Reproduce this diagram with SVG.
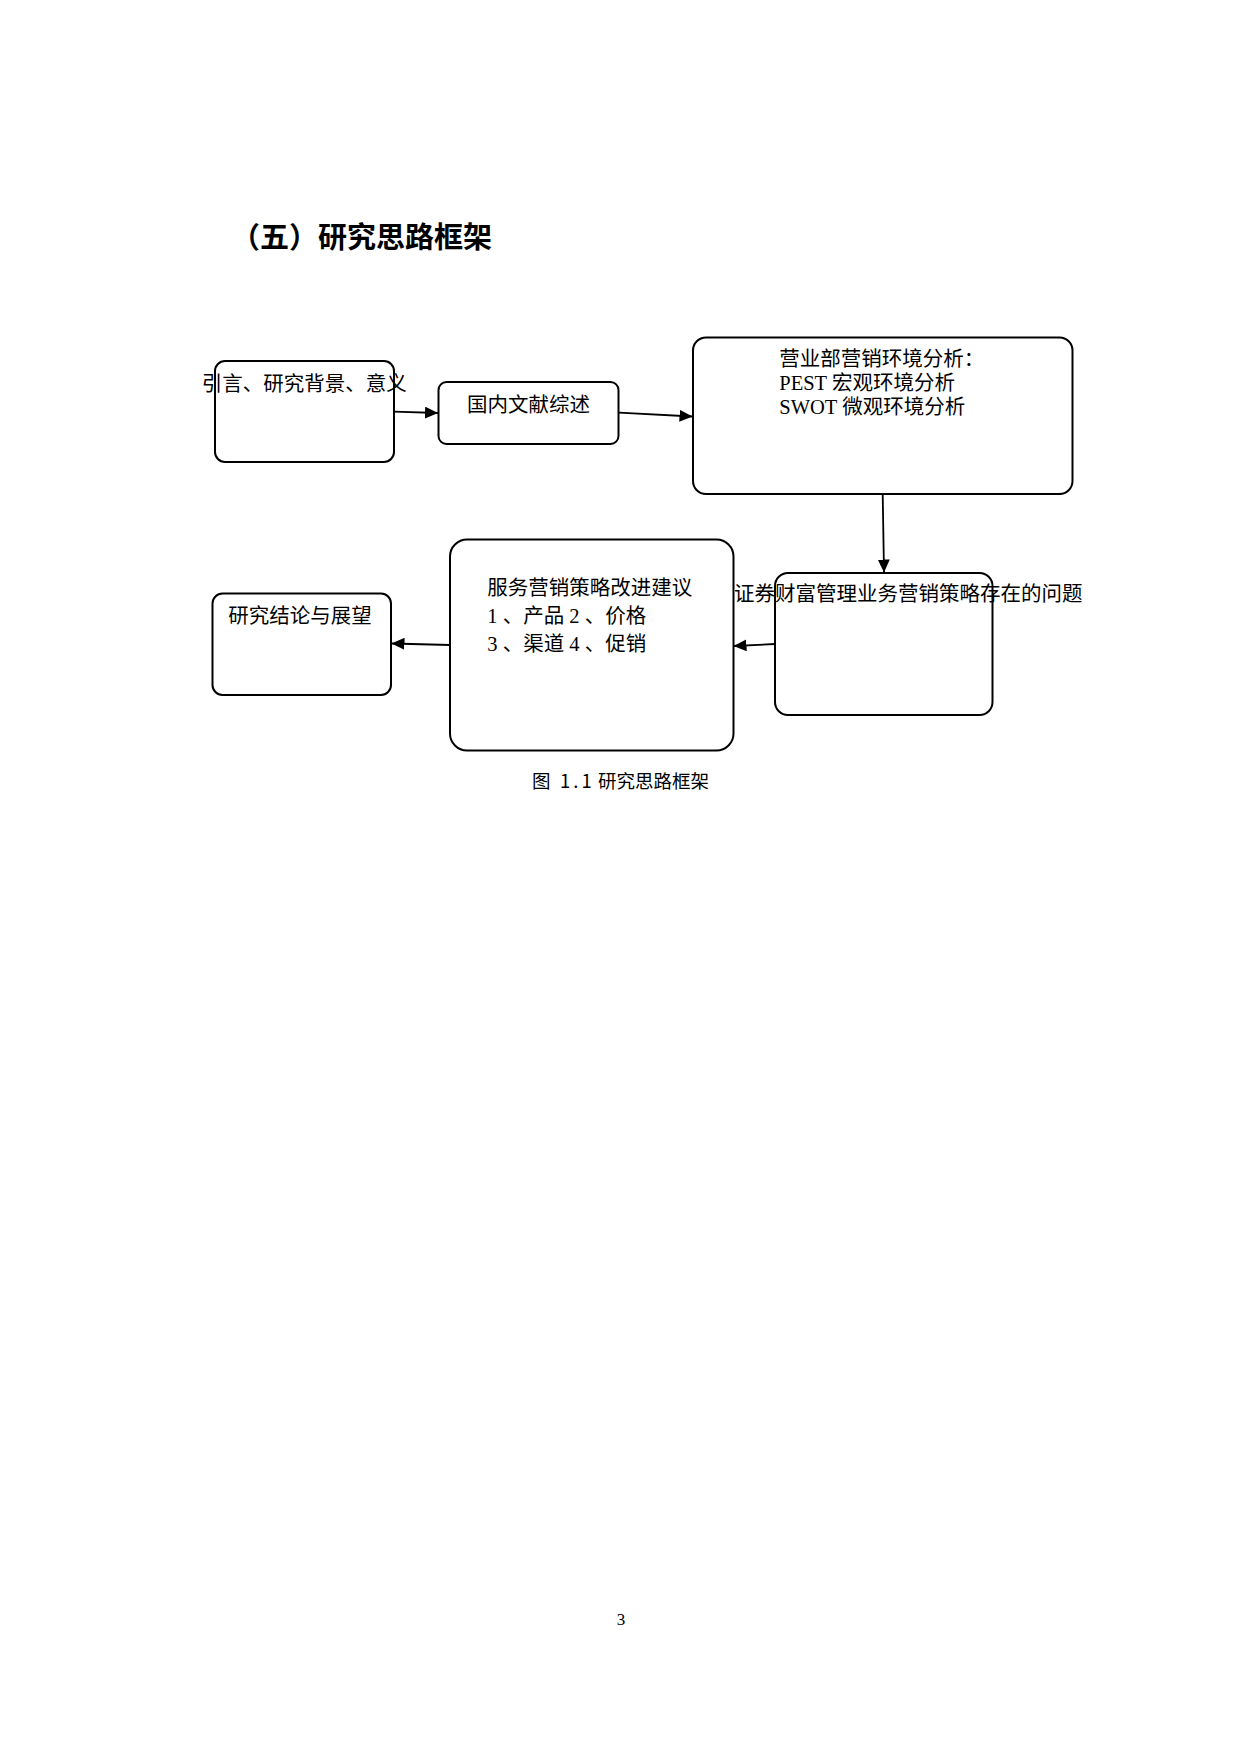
<svg xmlns="http://www.w3.org/2000/svg" width="1240" height="1754" viewBox="0 0 1240 1754">
<style>
.box{fill:none;stroke:#000;stroke-width:2}
.cn{font-family:"Noto Sans CJK SC","Liberation Sans",sans-serif;font-size:20.5px;fill:#000}
.mix{font-family:"Liberation Serif","Noto Sans CJK SC",serif;font-size:20.5px;fill:#000}
.con{stroke:#000;stroke-width:1.8;fill:none;marker-end:url(#arr)}
</style>
<defs>
<marker id="arr" markerUnits="userSpaceOnUse" markerWidth="14" markerHeight="12" refX="13" refY="6" orient="auto">
<path d="M0,0 L13,6 L0,12 z" fill="#000"/>
</marker>
</defs>
<rect width="1240" height="1754" fill="#fff"/>
<text x="231" y="248" font-family="'Noto Sans CJK SC',sans-serif" font-size="29" font-weight="bold" fill="#000">（五）研究思路框架</text>

<g id="connectors">
<line class="con" x1="394" y1="411.7" x2="438" y2="413"/>
<line class="con" x1="619" y1="412.7" x2="692.5" y2="416.5"/>
<line class="con" x1="882.7" y1="494" x2="884" y2="572.5"/>
<line class="con" x1="775" y1="644" x2="733.5" y2="646"/>
<line class="con" x1="450" y1="645" x2="391.5" y2="643.5"/>
</g>

<g id="n1">
<rect class="box" x="215" y="361" width="179" height="101" rx="10"/>
<text class="cn" x="201.7" y="391">引言、研究背景、意义</text>
</g>
<g id="n2">
<rect class="box" x="438.5" y="382" width="180" height="62" rx="8"/>
<text class="cn" x="528.5" y="412" text-anchor="middle">国内文献综述</text>
</g>
<g id="n3">
<rect class="box" x="693" y="337.5" width="379.5" height="156.5" rx="13"/>
<text class="mix" x="779.3" y="366">营业部营销环境分析：</text>
<text class="mix" x="779.3" y="390">PEST 宏观环境分析</text>
<text class="mix" x="779.3" y="414">SWOT 微观环境分析</text>
</g>
<g id="n4">
<rect class="box" x="775" y="573" width="217.5" height="142" rx="13"/>
<text class="mix" x="734" y="601">证券财富管理业务营销策略存在的问题</text>
</g>
<g id="n5">
<rect class="box" x="450" y="539.5" width="283.5" height="211" rx="17"/>
<text class="mix" x="487.3" y="595">服务营销策略改进建议</text>
<text class="mix" x="487.3" y="623" xml:space="preserve">1 、产品 2 、价格</text>
<text class="mix" x="487.3" y="651" xml:space="preserve">3 、渠道 4 、促销</text>
</g>
<g id="n6">
<rect class="box" x="212.5" y="593.5" width="178.5" height="101.5" rx="10"/>
<text class="cn" x="228.3" y="622.5">研究结论与展望</text>
</g>

<text font-family="'Noto Sans CJK SC',sans-serif" font-size="18.5" fill="#000"><tspan x="532" y="788">图</tspan><tspan x="560" y="788" letter-spacing="3">1.1</tspan><tspan x="598" y="788">研究思路框架</tspan></text>
<text x="621" y="1625" font-family="'Liberation Serif',serif" font-size="17" fill="#000" text-anchor="middle">3</text>
</svg>
